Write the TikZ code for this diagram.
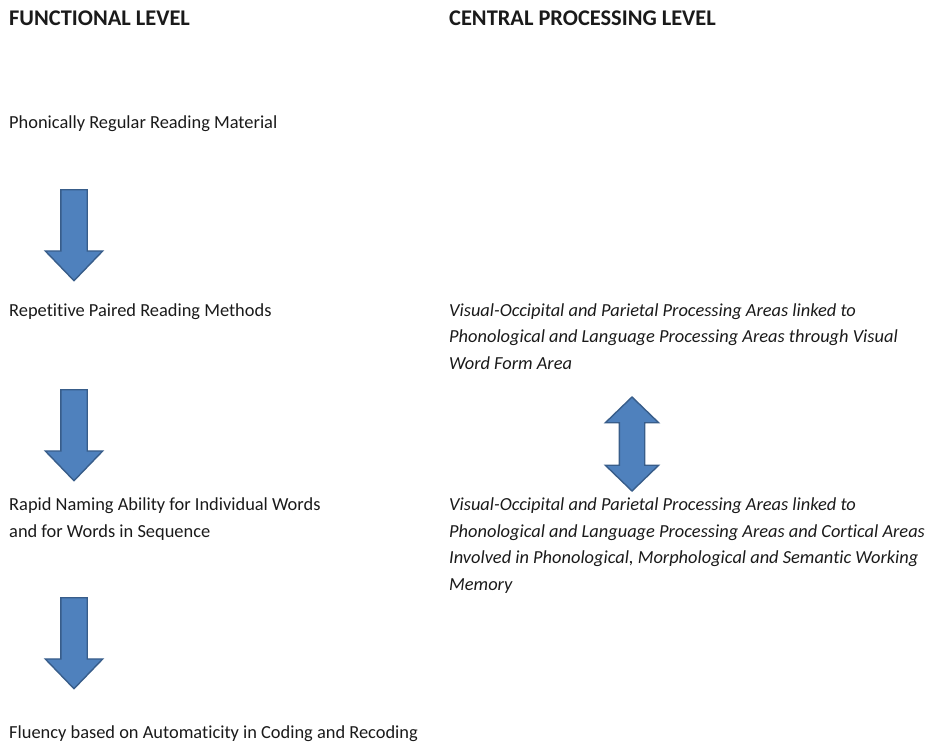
\documentclass[tikz,border=0pt]{standalone}
\usepackage{fontspec}
\setmainfont{Carlito}[Ligatures=NoCommon]
\usetikzlibrary{shapes.arrows}
\definecolor{arrowfill}{HTML}{4F81BD}
\definecolor{arrowline}{HTML}{385D8A}
\definecolor{textcol}{HTML}{1A1A1A}
\tikzset{
  heading/.style={anchor=base west, inner sep=0, font=\fontsize{22.4}{26}\selectfont\bfseries, text=textcol},
  % multi-line items are placed by the baseline of their last line
  item/.style={anchor=base west, inner sep=0, font=\fontsize{18.4}{26.5}\selectfont, text=textcol, align=left},
  area/.style={item, font=\fontsize{18.4}{26.5}\selectfont\itshape},
  downarrow/.style={single arrow, shape border rotate=270, draw=arrowline, fill=arrowfill,
    line width=1.4pt, inner sep=12.5pt, minimum height=91pt, minimum width=56pt,
    single arrow head extend=15.5pt, single arrow tip angle=88, anchor=tail},
  linkarrow/.style={double arrow, shape border rotate=90, draw=arrowline, fill=arrowfill,
    line width=1.4pt, inner sep=12pt, minimum height=94pt, minimum width=52pt,
    double arrow head extend=14pt, double arrow tip angle=92}
}
\begin{document}
\begin{tikzpicture}[x=1pt, y=-1pt]
  \useasboundingbox (0,0) rectangle (928,744);
  % column headings
  \node[heading] (hfun) at (9,25) {FUNCTIONAL LEVEL};
  \node[heading] (hcen) at (449,25) {CENTRAL PROCESSING LEVEL};
  % functional level steps
  \node[item] (f1) at (9,128) {Phonically Regular Reading Material};
  \node[item] (f2) at (9,316) {Repetitive Paired Reading Methods};
  \node[item] (f3) at (9,537) {Rapid Naming Ability for Individual Words\\and for Words in Sequence};
  \node[item] (f4) at (9,738) {Fluency based on Automaticity in Coding and Recoding};
  % central processing areas
  \node[area] (c1) at (449,369) {Visual-Occipital and Parietal Processing Areas linked to\\Phonological and Language Processing Areas through Visual\\Word Form Area};
  \node[area] (c2) at (449,590) {Visual-Occipital and Parietal Processing Areas linked to\\Phonological and Language Processing Areas and Cortical Areas\\Involved in Phonological, Morphological and Semantic Working\\Memory};
  % block arrows between the steps
  \node[downarrow] (a1) at (74,189) {};
  \node[downarrow] (a2) at (74,389) {};
  \node[downarrow] (a3) at (74,597) {};
  \node[linkarrow] (a4) at (632,444) {};
\end{tikzpicture}
\end{document}
